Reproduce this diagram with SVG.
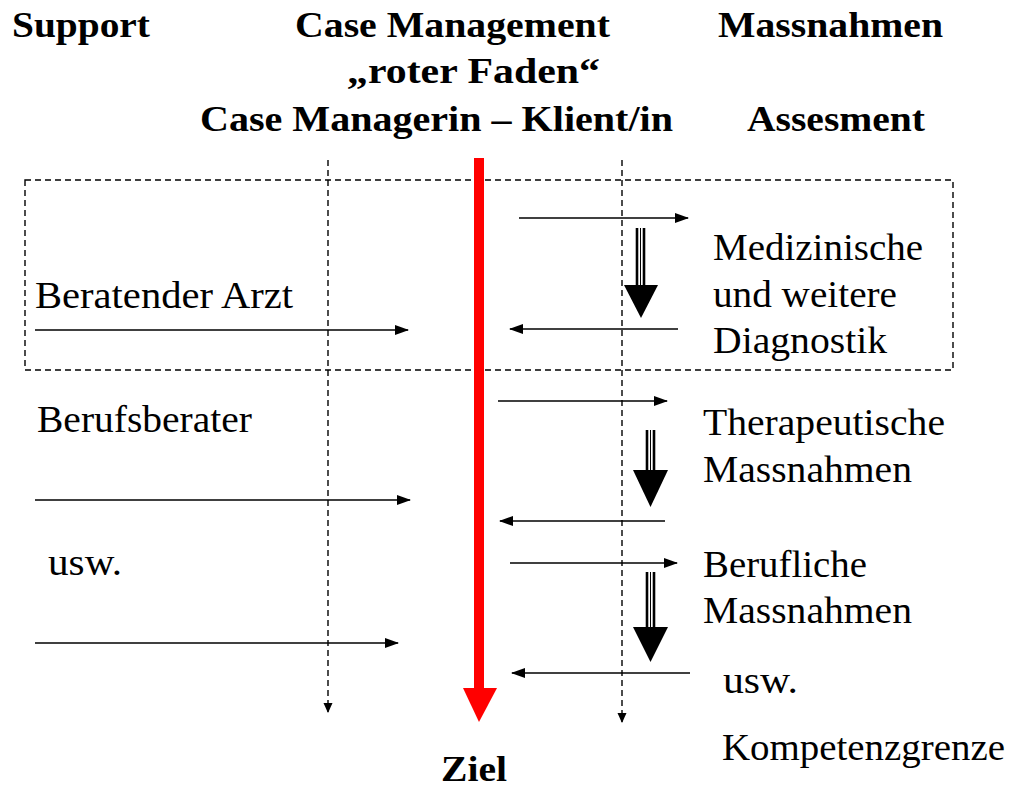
<svg xmlns="http://www.w3.org/2000/svg" width="1019" height="787" viewBox="0 0 1019 787">
<style>
.h{font-family:"Liberation Serif","Times New Roman",serif;font-weight:bold;font-size:36px;fill:#000}
.t{font-family:"Liberation Serif","Times New Roman",serif;font-size:37px;fill:#000}
.ln{stroke:#000;stroke-width:1.6;fill:none;marker-end:url(#ah)}
.dl{stroke:#000;stroke-width:1.4;stroke-dasharray:6 4;fill:none}
.bs{stroke:#000;stroke-width:2.6;fill:none}
</style>
<defs>
<marker id="ah" markerUnits="userSpaceOnUse" markerWidth="14" markerHeight="10" refX="13" refY="5" orient="auto">
<path d="M0,0 L14,5 L0,10 Z" fill="#000"/>
</marker>
<marker id="sh" markerUnits="userSpaceOnUse" markerWidth="10" markerHeight="10" refX="9" refY="5" orient="auto">
<path d="M0,0.5 L10,5 L0,9.5 Z" fill="#000"/>
</marker>
</defs>
<rect width="1019" height="787" fill="#fff"/>

<g id="frame">
<rect x="25" y="180" width="928" height="190" class="dl"/>
</g>

<g id="connectors">
<line x1="328" y1="160" x2="328" y2="712" class="dl" marker-end="url(#sh)"/>
<line x1="622" y1="160" x2="622" y2="722" class="dl" marker-end="url(#sh)"/>
<line x1="519" y1="218" x2="688" y2="218" class="ln"/>
<line x1="678" y1="329" x2="510" y2="329" class="ln"/>
<line x1="35" y1="330" x2="408" y2="330" class="ln"/>
<line x1="498" y1="401" x2="667" y2="401" class="ln"/>
<line x1="35" y1="500" x2="410" y2="500" class="ln"/>
<line x1="665" y1="521" x2="500" y2="521" class="ln"/>
<line x1="510" y1="563" x2="677" y2="563" class="ln"/>
<line x1="35" y1="643" x2="398" y2="643" class="ln"/>
<line x1="690" y1="673" x2="512" y2="673" class="ln"/>
<g id="redline">
<rect x="474" y="158" width="10" height="532" fill="#ff0000"/>
<path d="M463,688 L497,688 L479,722 Z" fill="#ff0000"/>
</g>
<g id="blockarrow1">
<line x1="637" y1="228" x2="637" y2="287" class="bs"/>
<line x1="644" y1="228" x2="644" y2="287" class="bs"/>
<line x1="640.5" y1="228" x2="640.5" y2="287" stroke="#000" stroke-width="1"/>
<path d="M624,285 L658,285 L641,318 Z" fill="#000"/>
</g>
<g id="blockarrow2">
<line x1="647" y1="430" x2="647" y2="471" class="bs"/>
<line x1="654" y1="430" x2="654" y2="471" class="bs"/>
<line x1="650.5" y1="430" x2="650.5" y2="471" stroke="#000" stroke-width="1"/>
<path d="M633,470 L668,470 L650.5,507 Z" fill="#000"/>
</g>
<g id="blockarrow3">
<line x1="647" y1="572" x2="647" y2="628" class="bs"/>
<line x1="654" y1="572" x2="654" y2="628" class="bs"/>
<line x1="650.5" y1="572" x2="650.5" y2="628" stroke="#000" stroke-width="1"/>
<path d="M633,627 L668,627 L650.5,662 Z" fill="#000"/>
</g>
</g>

<g id="header-support"><text class="h" x="12" y="37" textLength="138" lengthAdjust="spacingAndGlyphs">Support</text></g>
<g id="header-cm">
<text class="h" x="295" y="37" textLength="315" lengthAdjust="spacingAndGlyphs">Case Management</text>
<text class="h" x="347" y="83" textLength="253" lengthAdjust="spacingAndGlyphs">„roter Faden“</text>
<text class="h" x="200" y="131" textLength="473" lengthAdjust="spacingAndGlyphs">Case Managerin – Klient/in</text>
</g>
<g id="header-massnahmen"><text class="h" x="718" y="37" textLength="225" lengthAdjust="spacingAndGlyphs">Massnahmen</text></g>
<g id="header-assesment"><text class="h" x="747" y="131" textLength="178" lengthAdjust="spacingAndGlyphs">Assesment</text></g>

<g id="node-diagnostik">
<text class="t" x="713" y="260" textLength="210" lengthAdjust="spacingAndGlyphs">Medizinische</text>
<text class="t" x="713" y="307" textLength="184" lengthAdjust="spacingAndGlyphs">und weitere</text>
<text class="t" x="713" y="353" textLength="174" lengthAdjust="spacingAndGlyphs">Diagnostik</text>
</g>
<g id="node-arzt"><text class="t" x="35" y="308" textLength="258" lengthAdjust="spacingAndGlyphs">Beratender Arzt</text></g>
<g id="node-berufsberater"><text class="t" x="37" y="432" textLength="215" lengthAdjust="spacingAndGlyphs">Berufsberater</text></g>
<g id="node-usw-left"><text class="t" x="48" y="575" textLength="74" lengthAdjust="spacingAndGlyphs">usw.</text></g>
<g id="node-therapeutisch">
<text class="t" x="703" y="435" textLength="242" lengthAdjust="spacingAndGlyphs">Therapeutische</text>
<text class="t" x="703" y="482" textLength="209" lengthAdjust="spacingAndGlyphs">Massnahmen</text>
</g>
<g id="node-beruflich">
<text class="t" x="703" y="577" textLength="164" lengthAdjust="spacingAndGlyphs">Berufliche</text>
<text class="t" x="703" y="623" textLength="209" lengthAdjust="spacingAndGlyphs">Massnahmen</text>
</g>
<g id="node-usw-right"><text class="t" x="723" y="693" textLength="75" lengthAdjust="spacingAndGlyphs">usw.</text></g>
<g id="node-kompetenz"><text class="t" x="722" y="760" textLength="283" lengthAdjust="spacingAndGlyphs">Kompetenzgrenze</text></g>
<g id="node-ziel"><text class="h" x="441" y="781" textLength="66" lengthAdjust="spacingAndGlyphs">Ziel</text></g>
</svg>
